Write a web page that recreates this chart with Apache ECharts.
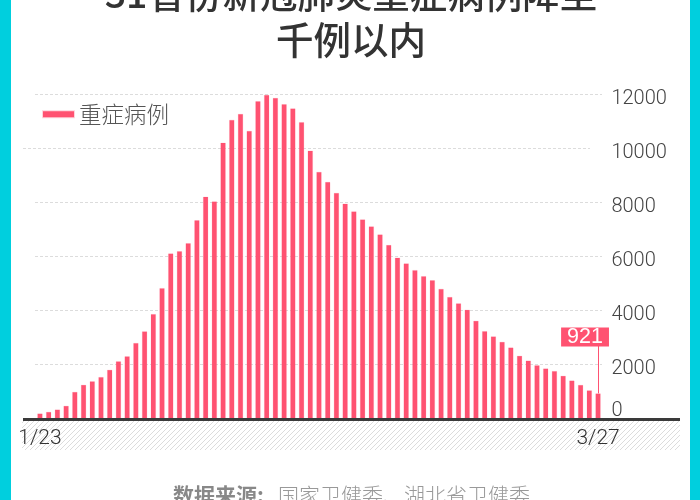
<!DOCTYPE html>
<html>
<head>
<meta charset="utf-8">
<style>html,body{margin:0;padding:0;background:#fff}#c{width:700px;height:500px}</style>
<script src="https://cdn.jsdelivr.net/npm/echarts@6/dist/echarts.min.js"></script>
</head>
<body>
<div id="c"></div>
<script>
const categories = ['1/23','1/24','1/25','1/26','1/27','1/28','1/29','1/30','1/31','2/1','2/2','2/3','2/4','2/5','2/6','2/7','2/8','2/9','2/10','2/11','2/12','2/13','2/14','2/15','2/16','2/17','2/18','2/19','2/20','2/21','2/22','2/23','2/24','2/25','2/26','2/27','2/28','2/29','3/1','3/2','3/3','3/4','3/5','3/6','3/7','3/8','3/9','3/10','3/11','3/12','3/13','3/14','3/15','3/16','3/17','3/18','3/19','3/20','3/21','3/22','3/23','3/24','3/25','3/26','3/27'];
const severeCases = [177,237,324,461,976,1239,1370,1527,1795,2110,2296,2788,3219,3859,4821,6101,6188,6484,7333,8204,8030,10204,11053,11272,10644,11741,11977,11864,11633,11477,10968,9915,9126,8752,8346,7952,7664,7365,7110,6806,6416,5952,5737,5489,5264,5111,4794,4492,4257,4020,3610,3226,3032,2830,2622,2314,2136,1963,1845,1749,1573,1399,1235,1034,921];
const gridValues = [12000,10000,8000,6000,4000,2000];
const seriesName = '重症病例';
const titleText = '31省份新冠肺炎重症病例降至\n千例以内';
const sourceLabel = '数据来源:';
const sourceText = '国家卫健委、湖北省卫健委';

const RED = '#ff5271';
const CJK = '"Noto Sans CJK SC","Noto Sans",sans-serif';
const NUM = 'Roboto,"Liberation Sans",Arial,sans-serif';

const hatch = document.createElement('canvas');
hatch.width = 5; hatch.height = 5;
const g = hatch.getContext('2d');
g.strokeStyle = '#dcdcdc'; g.lineWidth = 1;
g.beginPath();
g.moveTo(-1,1); g.lineTo(1,-1);
g.moveTo(0,5); g.lineTo(5,0);
g.moveTo(4,6); g.lineTo(6,4);
g.stroke();

const chart = echarts.init(document.getElementById('c'), null, {renderer:'canvas'});
chart.setOption({
  animation:false,
  backgroundColor:'#fff',
  title:{
    text:titleText,left:346,top:-34,textAlign:'center',
    textStyle:{fontFamily:CJK,fontSize:37.5,fontWeight:500,color:'#333',lineHeight:46,align:'center'}
  },
  legend:{
    data:[{name:seriesName,icon:'rect'}],left:37,top:98,itemWidth:31,itemHeight:6,itemGap:0,
    textStyle:{fontFamily:CJK,fontSize:22.5,fontWeight:300,color:'#555',padding:[0,0,2,0]},
    selectedMode:false
  },
  grid:{left:35.6,right:97.6,top:94.3,bottom:81.7},
  xAxis:{
    type:'category',data:categories,
    axisLine:{show:false},axisTick:{show:false},
    axisLabel:{
      interval:(i)=>i===0||i===categories.length-1,
      showMinLabel:true,showMaxLabel:true,
      fontFamily:NUM,fontSize:21,fontWeight:300,color:'#333',margin:10,hideOverlap:false
    }
  },
  yAxis:{
    type:'value',position:'right',min:0,max:12000,interval:2000,
    axisLine:{show:false},axisTick:{show:false},splitLine:{show:false},
    axisLabel:{
      formatter:(v)=>v===0?'{z|0}':'{a|'+v+'}',
      fontFamily:NUM,fontSize:20,fontWeight:300,color:'#444',margin:9,align:'left',
      verticalAlign:'top',verticalAlignMinLabel:'bottom',
      rich:{
        a:{fontFamily:NUM,fontSize:20,fontWeight:300,color:'#444',lineHeight:10,height:10},
        z:{fontFamily:NUM,fontSize:20,fontWeight:300,color:'#444',lineHeight:14,height:14}
      }
    }
  },
  series:[
    {
      type:'line',data:[],silent:true,z:1,
      markLine:{
        silent:true,symbol:'none',z:1,label:{show:false},
        lineStyle:{type:[3,2],color:'#dcdcdc',width:1},
        data:gridValues.map(v=>{
          const shift = v===10000 ? 12 : 0;
          return [{x:35-shift,yAxis:v},{x:602-shift,yAxis:v}];
        })
      }
    },
    {
      name:seriesName,type:'bar',data:severeCases.map((v,i)=>i===severeCases.length-1?{
        value:v,
        label:{
          show:true,position:'top',distance:47,offset:[-13,0],
          fontFamily:'"Liberation Sans",Arial,sans-serif',fontSize:21.5,color:'#fff',backgroundColor:RED,
          padding:[1,6,0,6],lineHeight:18
        }
      }:v),
      barWidth:5.2,z:3,itemStyle:{color:RED,borderColor:'rgba(255,82,113,0.25)',borderWidth:0.6},
      markLine:{
        silent:true,symbol:'none',z:3,label:{show:false},
        lineStyle:{type:'solid',color:RED,width:1},
        data:[[{coord:[categories[categories.length-1],severeCases[severeCases.length-1]]},
               {coord:[categories[categories.length-1],2700]}]]
      }
    },
    {
      type:'line',data:[],silent:true,z:5,
      markLine:{
        silent:true,symbol:'none',z:5,label:{show:false},
        lineStyle:{type:'solid',color:'#3a3a3a',width:3},
        data:[[{x:23,y:419},{x:680,y:419}]]
      }
    }
  ],
  graphic:[
    {type:'rect',shape:{x:0,y:0,width:11,height:500},style:{fill:'#00cfde'},silent:true},
    {type:'rect',shape:{x:690,y:0,width:10,height:500},style:{fill:'#00cfde'},silent:true},
    {type:'rect',z:-1,shape:{x:22,y:420.5,width:658,height:29.5},style:{fill:{image:hatch,repeat:'repeat'}},silent:true},
    {type:'text',x:173,y:495,style:{text:sourceLabel,font:'700 21px '+CJK,fill:'#888',textVerticalAlign:'middle'},silent:true},
    {type:'text',x:278,y:495,style:{text:sourceText,font:'300 21px '+CJK,fill:'#999',textVerticalAlign:'middle'},silent:true}
  ]
});
</script>
</body>
</html>
